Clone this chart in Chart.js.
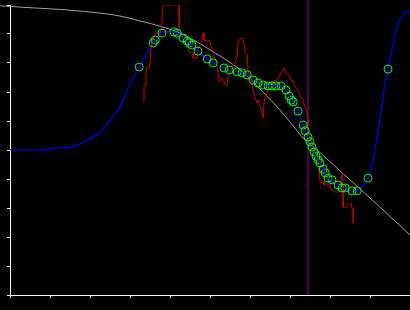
<!DOCTYPE html>
<html lang="en">
<head>
  <meta charset="UTF-8">
  <title>Fit overlay</title>
  <script src="https://cdn.jsdelivr.net/npm/chart.js"></script>
  <style>
    body {
      margin: 0;
      background: #000;
    }
    #wrap {
      width: 410px;
      height: 310px;
      background: #000;
    }
  </style>
</head>
<body>
  <div id="wrap"><canvas id="fitChart"></canvas></div>

  <script>
    // measured points (green circles)
    const measX = [3.23, 3.58, 3.63, 3.80, 4.10, 4.18, 4.33, 4.43, 4.48, 4.55, 4.70, 4.93, 5.08, 5.35, 5.48,
      5.68, 5.80, 5.93, 6.08, 6.20, 6.33, 6.45, 6.55, 6.65, 6.78, 6.90, 6.98, 7.03, 7.08, 7.20,
      7.33, 7.38, 7.45, 7.50, 7.55, 7.60, 7.65, 7.70, 7.75, 7.83, 7.88, 7.95, 8.05, 8.20, 8.30,
      8.38, 8.55, 8.68, 8.95, 9.45];
    const measY = [7.86, 8.69, 8.79, 9.03, 9.07, 9.03, 8.86, 8.76, 8.69, 8.62, 8.41, 8.14, 8.00, 7.83, 7.76,
      7.69, 7.66, 7.59, 7.41, 7.31, 7.24, 7.21, 7.21, 7.21, 7.21, 7.07, 6.86, 6.72, 6.66, 6.34,
      5.86, 5.66, 5.45, 5.28, 5.10, 4.93, 4.79, 4.66, 4.55, 4.34, 4.21, 4.03, 3.97, 3.79, 3.69,
      3.69, 3.59, 3.59, 4.03, 7.79];

    // fitted curve (blue)
    const fitX = [0, 0.68, 1.13, 1.5, 1.75, 2.0, 2.25, 2.5, 2.75, 2.95, 3.23, 3.58, 3.8, 4.0, 4.18,
      4.48, 4.7, 5.08, 5.48, 5.93, 6.2, 6.65, 6.9, 7.08, 7.2, 7.38, 7.55, 7.75, 7.95, 8.2,
      8.55, 8.75, 8.95, 9.08, 9.25, 9.38, 9.45, 9.55, 9.7, 9.88, 10.0];
    const fitY = [5.0, 5.0, 5.07, 5.1, 5.21, 5.38, 5.62, 6.03, 6.48, 7.14, 7.86, 8.69, 9.03, 9.10, 9.03,
      8.69, 8.41, 8.0, 7.76, 7.59, 7.31, 7.21, 7.07, 6.66, 6.34, 5.66, 5.10, 4.55, 4.03, 3.79,
      3.59, 3.66, 4.03, 4.66, 6.14, 7.31, 7.79, 8.45, 9.38, 9.72, 9.83];

    // raw signal (red)
    const rawX = [3.33, 3.35, 3.35, 3.4, 3.4, 3.48, 3.5, 3.53, 3.55, 3.6, 3.65, 3.75, 3.8, 3.8, 3.83,
      4.23, 4.23, 4.33, 4.38, 4.43, 4.48, 4.58, 4.58, 4.68, 4.68, 4.8, 4.83, 4.85, 4.85, 5.0,
      5.03, 5.08, 5.2, 5.23, 5.28, 5.3, 5.38, 5.43, 5.45, 5.53, 5.68, 5.7, 5.75, 5.83, 5.85,
      5.88, 5.93, 5.95, 6.0, 6.05, 6.08, 6.13, 6.18, 6.2, 6.25, 6.3, 6.33, 6.35, 6.38, 6.45,
      6.5, 6.53, 6.58, 6.68, 6.73, 6.78, 6.83, 6.85, 6.9, 6.95, 7.0, 7.03, 7.08, 7.13, 7.2,
      7.25, 7.3, 7.33, 7.38, 7.43, 7.45, 7.45, 7.5, 7.6, 7.7, 7.73, 7.75, 7.8, 7.83, 7.85,
      7.9, 7.95, 8.0, 8.03, 8.08, 8.13, 8.2, 8.25, 8.3, 8.33, 8.33, 8.43, 8.48, 8.53, 8.55,
      8.58, 8.58];
    const rawY = [6.66, 6.66, 7.21, 7.21, 7.83, 7.83, 8.03, 8.55, 8.72, 8.9, 9.03, 9.03, 9.21, 9.48, 10.0,
      10.0, 9.21, 8.83, 8.69, 8.55, 8.38, 8.34, 8.17, 8.17, 8.38, 8.79, 9.07, 9.03, 8.79, 8.76,
      8.55, 8.38, 7.76, 7.34, 7.41, 7.48, 7.24, 7.21, 7.55, 7.76, 8.21, 8.69, 8.83, 8.86, 8.69,
      8.34, 8.28, 7.76, 7.48, 7.28, 7.07, 6.79, 6.62, 6.72, 6.52, 6.28, 6.1, 6.62, 6.83, 7.03,
      7.21, 7.31, 7.38, 7.41, 7.52, 7.69, 7.72, 7.83, 7.66, 7.62, 7.52, 7.38, 7.38, 7.21, 7.03,
      6.86, 6.79, 6.66, 6.45, 6.31, 6.03, 5.69, 5.41, 5.0, 4.72, 4.31, 3.9, 3.86, 3.93, 3.79,
      3.86, 3.76, 3.83, 3.62, 3.62, 3.55, 3.55, 3.69, 4.17, 3.76, 3.03, 3.03, 3.1, 3.17, 3.0,
      3.0, 2.48];

    // model curve (gray)
    const modelX = [-0.25, 0.58, 1.43, 2.25, 2.75, 3.25, 3.83, 4.25, 4.68, 5.05, 5.45, 5.88, 6.3, 6.75, 7.08,
      7.33, 7.68, 8.25, 8.75, 9.25, 10.0];
    const modelY = [9.97, 9.9, 9.83, 9.72, 9.62, 9.45, 9.24, 9.03, 8.72, 8.41, 8.07, 7.62, 7.03, 6.38, 5.83,
      5.41, 5.0, 4.28, 3.66, 3.03, 2.07];

    // cut position (purple)
    const cutX = [7.45, 7.45];
    const cutY = [0, 10.17];

    const zip = (xs, ys) => xs.map((x, i) => ({ x: x, y: ys[i] }));

    const axis = {
      type: 'linear',
      min: 0,
      max: 10,
      ticks: { display: false, stepSize: 1 },
      grid: {
        drawOnChartArea: false,
        drawTicks: true,
        tickLength: 3,
        color: '#ffffff',
        lineWidth: 1
      },
      border: { color: '#ffffff', width: 1 }
    };

    const config = {
      type: 'scatter',
      data: {
        datasets: [
          {
            data: zip(measX, measY),
            pointRadius: 1,
            pointBorderWidth: 0,
            pointBackgroundColor: '#0000ff',
            showLine: false
          },
          {
            data: zip(measX, measY),
            pointRadius: 4,
            pointBorderWidth: 1,
            pointBorderColor: '#00ff00',
            pointBackgroundColor: 'rgba(0,0,0,0)',
            showLine: false
          },
          {
            data: zip(cutX, cutY),
            showLine: true,
            borderColor: '#a000a0',
            borderWidth: 1,
            pointRadius: 0,
            clip: false
          },
          {
            data: zip(rawX, rawY),
            showLine: true,
            borderColor: '#cc0000',
            borderWidth: 1,
            pointRadius: 0
          },
          {
            data: zip(fitX, fitY),
            showLine: true,
            borderColor: '#0000ff',
            borderWidth: 1.2,
            pointRadius: 0,
            cubicInterpolationMode: 'monotone'
          },
          {
            data: zip(modelX, modelY),
            showLine: true,
            borderColor: '#a0a0a0',
            borderWidth: 1,
            pointRadius: 0,
            cubicInterpolationMode: 'monotone',
            clip: false
          }
        ]
      },
      options: {
        responsive: true,
        maintainAspectRatio: false,
        animation: false,
        layout: {
          autoPadding: false,
          padding: { left: 7, top: 5, right: 0, bottom: 12 }
        },
        plugins: {
          legend: { display: false },
          tooltip: { enabled: false }
        },
        scales: {
          x: axis,
          y: axis
        }
      }
    };

    new Chart(document.getElementById('fitChart'), config);
  </script>
</body>
</html>
